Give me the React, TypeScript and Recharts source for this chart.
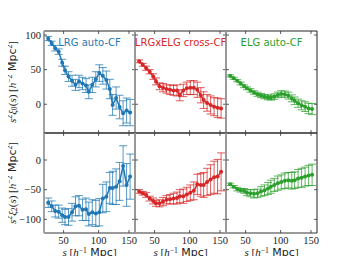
import { ErrorBar, Line, LineChart, XAxis, YAxis } from "recharts";

// bin centres, s [h^-1 Mpc]
const S = [28, 33, 38, 43, 48, 52, 57, 62, 67, 72, 77, 82, 86, 91, 96, 101, 106, 111, 116, 120, 125, 130, 135, 140, 145];

// monopole, s^2 xi_0
const LRG_XI0 = [95, 88, 81, 76, 60, 49, 40, 34, 28, 33, 30, 27, 18, 28, 36, 45, 41, 35, 22, -1, 9, -4, -13, -9, -12];
const LRG_XI0_ERR = [3, 3, 4, 4, 5, 6, 7, 8, 8, 9, 9, 10, 10, 11, 11, 12, 12, 13, 14, 15, 16, 17, 18, 18, 19];
const CROSS_XI0 = [62, 57, 52, 47, 40, 33, 26, 24, 22, 21, 20, 20, 13, 20, 23, 24, 24, 21, 13, 6, 2, -1, -3.5, -5, -6];
const CROSS_XI0_ERR = [2, 2, 3, 3, 4, 5, 5, 6, 6, 7, 7, 8, 8, 9, 9, 10, 10, 11, 11, 12, 12, 13, 13, 14, 14];
const ELG_XI0 = [41, 37.5, 34, 30, 26, 23, 20, 17, 14.5, 12.5, 11, 10, 9.5, 11, 13.5, 15, 14.5, 12.5, 8.5, 5, 1.5, -1.5, -3.5, -6, -7];
const ELG_XI0_ERR = [1.5, 1.5, 1.5, 2, 2, 2, 2.5, 2.5, 3, 3, 3, 3.5, 3.5, 4, 4, 4.5, 4.5, 5, 5, 5.5, 6, 6.5, 7, 7.5, 8];

// quadrupole, s^2 xi_2
const LRG_XI2 = [-72, -78, -86, -87, -93, -96, -96, -88, -78, -77, -84, -83, -91, -88, -90, -88, -65, -62, -47, -47, -45, -36, -10, -42, -28];
const LRG_XI2_ERR = [8, 9, 10, 11, 12, 13, 14, 15, 16, 17, 18, 19, 20, 21, 22, 23, 24, 25, 26, 28, 30, 32, 34, 36, 38];
const CROSS_XI2 = [-53, -56, -59, -65, -69, -73, -73, -70, -67, -66, -65, -64, -61, -61, -58, -55, -52, -41, -42, -42, -37, -33, -29, -28, -20];
const CROSS_XI2_ERR = [3, 3, 4, 4, 5, 5, 6, 7, 7, 8, 9, 10, 11, 12, 12, 13, 15, 17, 19, 21, 23, 25, 27, 29, 32];
const ELG_XI2 = [-41, -45, -49, -51, -52, -55, -56, -57, -56, -53, -51, -48, -45, -42, -39, -37, -35, -34, -35, -34, -31, -30, -28, -26, -25];
const ELG_XI2_ERR = [2, 2, 3, 3, 4, 5, 6, 7, 7, 8, 9, 10, 11, 11, 12, 12, 13, 13, 14, 14, 15, 16, 16, 17, 18];

const X_TICKS = [50, 100, 150];
const TOP_TICKS = [0, 50, 100];
const BOTTOM_TICKS = [-100, -50, 0];

const BLUE = "#1f77b4";
const RED = "#d62728";
const GREEN = "#2ca02c";

const W = 91;
const PAD_L = 36;
const PAD_R = 6;
const PAD_T = 6;
const PAD_B = 22;

const fmt = (v: number) => (v < 0 ? `\u2212${Math.abs(v)}` : `${v}`);
const tickFont = { fontFamily: "'Liberation Serif', serif", fontSize: 10.5, fill: "#222" };

const leftTick = (labels: boolean) => (p: any) => (
  <g>
    <line x1={p.x} x2={p.x + 3} y1={p.y} y2={p.y} stroke="#333" strokeWidth={0.8} />
    {labels && (
      <text x={p.x - 3} y={p.y} dy="0.35em" textAnchor="end" {...tickFont}>
        {fmt(p.payload.value)}
      </text>
    )}
  </g>
);
const rightTick = (p: any) => (
  <line x1={p.x} x2={p.x - 3} y1={p.y} y2={p.y} stroke="#333" strokeWidth={0.8} />
);
const bottomTick = (labels: boolean) => (p: any) => (
  <g>
    <line x1={p.x} x2={p.x} y1={p.y} y2={p.y - 3} stroke="#333" strokeWidth={0.8} />
    {labels && (
      <text x={p.x} y={p.y + 11} textAnchor="middle" {...tickFont}>
        {fmt(p.payload.value)}
      </text>
    )}
  </g>
);
const topTick = (p: any) => (
  <line x1={p.x} x2={p.x} y1={p.y} y2={p.y + 3} stroke="#333" strokeWidth={0.8} />
);

function Panel({
  left,
  top,
  height,
  values,
  errors,
  color,
  yDomain,
  yTicks,
  yLabels,
  xLabels,
}: {
  left: number;
  top: number;
  height: number;
  values: number[];
  errors: number[];
  color: string;
  yDomain: [number, number];
  yTicks: number[];
  yLabels: boolean;
  xLabels: boolean;
}) {
  const data = S.map((s, i) => ({ s, v: values[i], err: errors[i] }));
  return (
    <div style={{ position: "absolute", left: left - PAD_L, top: top - PAD_T }}>
      <LineChart
        width={W + PAD_L + PAD_R}
        height={height + PAD_T + PAD_B}
        data={data}
        margin={{ top: 0, right: 0, bottom: 0, left: 0 }}
      >
        <XAxis
          xAxisId="b"
          dataKey="s"
          type="number"
          domain={[22, 152]}
          ticks={X_TICKS}
          allowDataOverflow
          height={PAD_B}
          tickSize={0}
          tickMargin={0}
          tick={bottomTick(xLabels)}
          axisLine={{ stroke: "#9a9a9a", strokeWidth: 1.8 }}
        />
        <XAxis
          xAxisId="t"
          orientation="top"
          dataKey="s"
          type="number"
          domain={[22, 152]}
          ticks={X_TICKS}
          allowDataOverflow
          height={PAD_T}
          tickSize={0}
          tickMargin={0}
          tick={topTick}
          axisLine={{ stroke: "#222", strokeWidth: 1 }}
        />
        <YAxis
          yAxisId="l"
          type="number"
          domain={yDomain}
          ticks={yTicks}
          allowDataOverflow
          width={PAD_L}
          tickSize={0}
          tickMargin={0}
          tick={leftTick(yLabels)}
          axisLine={{ stroke: "#9a9a9a", strokeWidth: 1.8 }}
        />
        <YAxis
          yAxisId="r"
          orientation="right"
          type="number"
          domain={yDomain}
          ticks={yTicks}
          allowDataOverflow
          width={PAD_R}
          tickSize={0}
          tickMargin={0}
          tick={rightTick}
          axisLine={{ stroke: "#222", strokeWidth: 1 }}
        />
        <Line
          xAxisId="b"
          yAxisId="l"
          dataKey="v"
          stroke={color}
          strokeWidth={1.5}
          dot={{ r: 2, fill: color, stroke: color, strokeWidth: 0 }}
          isAnimationActive={false}
        >
          <ErrorBar dataKey="err" direction="y" width={4} stroke={color} strokeWidth={1} strokeOpacity={0.75} />
        </Line>
        <Line
          xAxisId="t"
          yAxisId="r"
          dataKey="v"
          stroke="none"
          dot={false}
          activeDot={false}
          isAnimationActive={false}
        />
      </LineChart>
    </div>
  );
}

const italic = { fontFamily: "'Liberation Serif', serif", fontStyle: "italic" as const };
const sans = { fontFamily: "'DejaVu Sans', sans-serif" };
const supStyle = { fontSize: "0.7em", verticalAlign: "0.45em", lineHeight: 0 };
const subStyle = { fontSize: "0.7em", verticalAlign: "-0.25em", lineHeight: 0 };

function YLabel({ order, centerY }: { order: string; centerY: number }) {
  return (
    <div
      style={{
        position: "absolute",
        left: 12,
        top: centerY,
        transform: "translate(-50%, -50%) rotate(-90deg)",
        whiteSpace: "nowrap",
        fontSize: 11,
        color: "#222",
        lineHeight: "12px",
      }}
    >
      <span style={italic}>s</span>
      <span style={supStyle}>2</span>
      <span style={italic}>ξ</span>
      <span style={subStyle}>{order}</span>
      <span style={{ fontFamily: "'Liberation Serif', serif" }}>(</span>
      <span style={italic}>s</span>
      <span style={{ fontFamily: "'Liberation Serif', serif" }}>) [</span>
      <span style={italic}>h</span>
      <span style={supStyle}>−2</span>
      <span style={sans}> Mpc</span>
      <span style={supStyle}>2</span>
      <span style={{ fontFamily: "'Liberation Serif', serif" }}>]</span>
    </div>
  );
}

function XLabel({ centerX }: { centerX: number }) {
  return (
    <div
      style={{
        position: "absolute",
        left: centerX,
        top: 247,
        transform: "translate(-50%, 0)",
        whiteSpace: "nowrap",
        fontSize: 11,
        color: "#222",
        lineHeight: "11px",
        height: 11,
      }}
    >
      <span style={italic}>s</span>
      <span style={{ fontFamily: "'Liberation Serif', serif" }}> [</span>
      <span style={italic}>h</span>
      <span style={supStyle}>−1</span>
      <span style={sans}> Mpc</span>
      <span style={{ fontFamily: "'Liberation Serif', serif" }}>]</span>
    </div>
  );
}

function Title({ text, color, centerX }: { text: string; color: string; centerX: number }) {
  return (
    <div
      style={{
        position: "absolute",
        left: centerX,
        top: 42,
        transform: "translate(-50%, -50%)",
        whiteSpace: "nowrap",
        fontFamily: "'DejaVu Sans', sans-serif",
        fontSize: 10,
        color,
      }}
    >
      {text}
    </div>
  );
}

const COLS = [44, 135, 226];

export default function App() {
  return (
    <div style={{ position: "relative", width: 352, height: 264, margin: -8, background: "#fff", overflow: "hidden" }}>
      <Panel left={COLS[0]} top={31} height={102} values={LRG_XI0} errors={LRG_XI0_ERR} color={BLUE} yDomain={[-41.5, 105.8]} yTicks={TOP_TICKS} yLabels xLabels={false} />
      <Panel left={COLS[1]} top={31} height={102} values={CROSS_XI0} errors={CROSS_XI0_ERR} color={RED} yDomain={[-41.5, 105.8]} yTicks={TOP_TICKS} yLabels={false} xLabels={false} />
      <Panel left={COLS[2]} top={31} height={102} values={ELG_XI0} errors={ELG_XI0_ERR} color={GREEN} yDomain={[-41.5, 105.8]} yTicks={TOP_TICKS} yLabels={false} xLabels={false} />
      <Panel left={COLS[0]} top={133} height={100} values={LRG_XI2} errors={LRG_XI2_ERR} color={BLUE} yDomain={[-123, 45.5]} yTicks={BOTTOM_TICKS} yLabels xLabels />
      <Panel left={COLS[1]} top={133} height={100} values={CROSS_XI2} errors={CROSS_XI2_ERR} color={RED} yDomain={[-123, 45.5]} yTicks={BOTTOM_TICKS} yLabels={false} xLabels />
      <Panel left={COLS[2]} top={133} height={100} values={ELG_XI2} errors={ELG_XI2_ERR} color={GREEN} yDomain={[-123, 45.5]} yTicks={BOTTOM_TICKS} yLabels={false} xLabels />
      <Title text="LRG auto-CF" color={BLUE} centerX={COLS[0] + W / 2} />
      <Title text="LRGxELG cross-CF" color={RED} centerX={COLS[1] + W / 2} />
      <Title text="ELG auto-CF" color={GREEN} centerX={COLS[2] + W / 2} />
      <YLabel order="0" centerY={82} />
      <YLabel order="2" centerY={183} />
      {COLS.map((c) => (
        <XLabel key={c} centerX={c + W / 2} />
      ))}
    </div>
  );
}
